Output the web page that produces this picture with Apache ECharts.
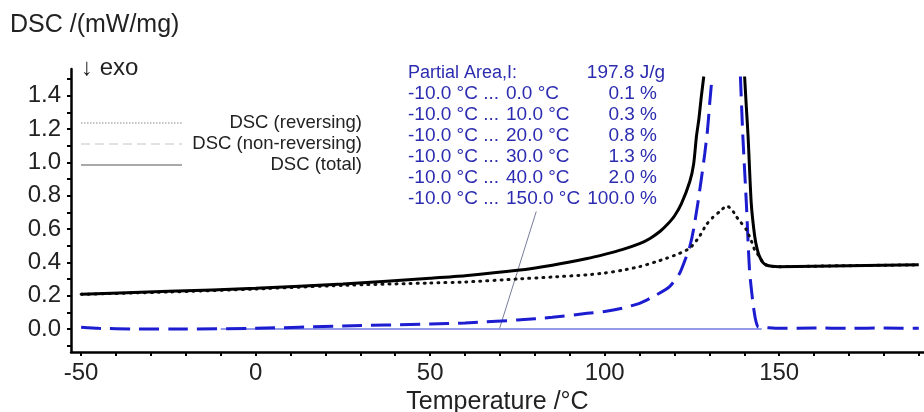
<!DOCTYPE html>
<html>
<head>
<meta charset="utf-8">
<script src="https://cdn.jsdelivr.net/npm/echarts@6/dist/echarts.min.js"></script>
<style>
  html, body { margin: 0; padding: 0; background: #fff; }
  #chart { width: 924px; height: 412px; }
</style>
</head>
<body>
<div id="chart"></div>
<script>
// DSC (total) - solid black, null = leaves the plot at the top
const totalT = [-50, -25, 0, 25, 50, 60, 75, 85, 95, 100, 105, 110, 113, 116, 118, 120, 122, 124.4, 125.5, 126.3, 127, 127.7, 128.4, 134, 140.1, 140.6, 141.1, 142.0, 143.0, 143.7, 144.4, 145.3, 146.3, 148, 150, 170, 190]
const totalV = [0.208, 0.226, 0.244, 0.27, 0.305, 0.32, 0.352, 0.383, 0.423, 0.448, 0.476, 0.512, 0.543, 0.588, 0.628, 0.678, 0.752, 0.885, 0.99, 1.155, 1.26, 1.395, 1.515, null, 1.515, 1.33, 1.155, 0.755, 0.555, 0.48, 0.434, 0.40, 0.384, 0.376, 0.374, 0.38, 0.385]

// DSC (reversing) - dotted black
const revT = [-50, -25, 0, 25, 50, 60, 75, 85, 95, 100, 105, 110, 114.8, 117.7, 121, 124.4, 127, 129.1, 131, 133, 135, 136.5, 137.7, 139, 140.6, 142, 143, 144.4, 145.3, 146.3, 148, 150, 170, 190]
const revV = [0.208, 0.222, 0.24, 0.262, 0.276, 0.282, 0.30, 0.312, 0.325, 0.336, 0.352, 0.374, 0.404, 0.424, 0.45, 0.485, 0.55, 0.625, 0.67, 0.705, 0.739, 0.715, 0.675, 0.64, 0.595, 0.53, 0.474, 0.434, 0.40, 0.384, 0.376, 0.374, 0.38, 0.385]

// DSC (non-reversing) - dashed blue
const nonRevT = [-50, -45, -35, -20, 0, 25, 50, 60, 75, 85, 95, 100, 105, 110, 114.8, 118.6, 121.5, 123.4, 124.4, 125.5, 126.7, 127.7, 128.7, 129.5, 130.1, 130.8, 135, 138.9, 139.6, 140.6, 141.5, 142.5, 143.2, 143.9, 145, 146.3, 150, 160, 170, 180, 190]
const nonRevV = [0.01, 0.004, 0.0, 0.0, 0.004, 0.018, 0.03, 0.036, 0.054, 0.07, 0.094, 0.105, 0.125, 0.154, 0.204, 0.254, 0.334, 0.434, 0.494, 0.6, 0.755, 0.9, 1.055, 1.2, 1.355, 1.515, null, 1.515, 1.155, 0.755, 0.354, 0.154, 0.06, 0.014, 0.01, 0.008, 0.004, 0.006, 0.004, 0.006, 0.004]

// partial area baseline + leader line
const baseT = [-10, 145]
const baseV = [0, 0]
const leaderT = [80.4, 69.9]
const leaderV = [0.705, 0.004]

// ticks / labels
const xTicks = [-50, -40, -30, -20, -10, 0, 10, 20, 30, 40, 50, 60, 70, 80, 90, 100, 110, 120, 130, 140, 150, 160, 170, 180, 190]
const xLabels = [-50, 0, 50, 100, 150]
const yTicks = [-0.1, 0, 0.1, 0.2, 0.3, 0.4, 0.5, 0.6, 0.7, 0.8, 0.9, 1.0, 1.1, 1.2, 1.3, 1.4, 1.5]
const yLabels = [0, 0.2, 0.4, 0.6, 0.8, 1.0, 1.2, 1.4]

// annotation (partial areas)
const areaTitle = 'Partial Area,I:'
const areaTotal = '197.8 J/g'
const areaFrom = '-10.0 °C ...'
const areaTo = ['0.0 °C', '10.0 °C', '20.0 °C', '30.0 °C', '40.0 °C', '150.0 °C']
const areaPct = ['0.1 %', '0.3 %', '0.8 %', '1.3 %', '2.0 %', '100.0 %']

const legendNames = ['DSC (reversing)', 'DSC (non-reversing)', 'DSC (total)']

const FONT = '"Liberation Sans", Arial, sans-serif'
const BLUE = '#1c1cd0'
const TEXT_BLUE = '#2c2cb0'

function pairs(ts, vs) {
    return ts.map((t, i) => [t, vs[i] === null ? '-' : vs[i]])
}

function txt(x, y, text, size, color, align) {
    return {
        type: 'text', x: x, y: y,
        style: { text: text, fill: color, font: size + 'px ' + FONT, align: align, verticalAlign: 'middle' }
    }
}

const chart = echarts.init(document.getElementById('chart'))

// annotation texts
let graphic = []
graphic.push(txt(408, 73, areaTitle, 18, TEXT_BLUE, 'left'))
graphic.push(txt(665, 73, areaTotal, 19, TEXT_BLUE, 'right'))
areaTo.forEach((to, i) => {
    const y = 94 + i * 21
    graphic.push(txt(408, y, areaFrom, 19, TEXT_BLUE, 'left'))
    graphic.push(txt(506, y, to, 19, TEXT_BLUE, 'left'))
    graphic.push(txt(657, y, areaPct[i], 19, TEXT_BLUE, 'right'))
})

// legend (grey samples, text right aligned)
const legendDash = [[1.5, 1.5], [9, 5], null]
const legendColor = ['#888', '#c4c4c4', '#555']
legendNames.forEach((name, i) => {
    const y = 123 + i * 21
    graphic.push({
        type: 'line', shape: { x1: 81, y1: y, x2: 182, y2: y },
        style: { stroke: legendColor[i], lineWidth: 1, lineDash: legendDash[i] }
    })
    graphic.push(txt(362, y, name, 18.5, '#222', 'right'))
})

// ↓ exo
graphic.push(txt(81, 68, '↓ exo', 24, '#222', 'left'))

const option = {
    animation: false,
    backgroundColor: '#fff',
    title: {
        text: 'DSC /(mW/mg)',
        left: 10, top: 13, padding: 0,
        textStyle: { fontFamily: FONT, fontSize: 25, fontWeight: 'normal', color: '#222' }
    },
    grid: { left: 71, right: 0, top: 69, bottom: 60, outerBoundsMode: 'none', containLabel: false },
    xAxis: {
        type: 'value',
        min: -52.9, max: 191.5,
        name: 'Temperature /°C',
        nameLocation: 'middle',
        nameGap: 31,
        nameTextStyle: { fontFamily: FONT, fontSize: 25, color: '#222' },
        axisLine: { onZero: false, lineStyle: { color: '#000', width: 2.5 } },
        axisTick: { customValues: xTicks, length: 4, lineStyle: { color: '#000', width: 2 } },
        axisLabel: { customValues: xLabels, margin: 9, fontFamily: FONT, fontSize: 24, color: '#222' },
        splitLine: { show: false }
    },
    yAxis: {
        type: 'value',
        min: -0.138, max: 1.56,
        axisLine: { show: true, onZero: false, lineStyle: { color: '#000', width: 2.5 } },
        axisTick: { show: true, customValues: yTicks, length: 4, lineStyle: { color: '#000', width: 2 } },
        axisLabel: {
            customValues: yLabels, margin: 10, fontFamily: FONT, fontSize: 24, color: '#222',
            formatter: (v) => v.toFixed(1)
        },
        splitLine: { show: false }
    },
    graphic: graphic,
    series: [
        {
            name: 'baseline', type: 'line', data: pairs(baseT, baseV),
            showSymbol: false, lineStyle: { color: '#2a3ad0', width: 1.2 }
        },
        {
            name: 'leader', type: 'line', data: pairs(leaderT, leaderV),
            showSymbol: false, lineStyle: { color: '#555a80', width: 0.8 }
        },
        {
            name: 'DSC (non-reversing)', type: 'line', data: pairs(nonRevT, nonRevV),
            showSymbol: false, smooth: 0.2,
            lineStyle: { color: BLUE, width: 3, type: [20, 9] }
        },
        {
            name: 'DSC (reversing)', type: 'line', data: pairs(revT, revV),
            showSymbol: false, smooth: 0.2,
            lineStyle: { color: '#111', width: 3, type: [1, 6], cap: 'round' }
        },
        {
            name: 'DSC (total)', type: 'line', data: pairs(totalT, totalV),
            showSymbol: false, smooth: 0.2,
            lineStyle: { color: '#000', width: 3 }
        }
    ]
}

chart.setOption(option)
</script>
</body>
</html>
